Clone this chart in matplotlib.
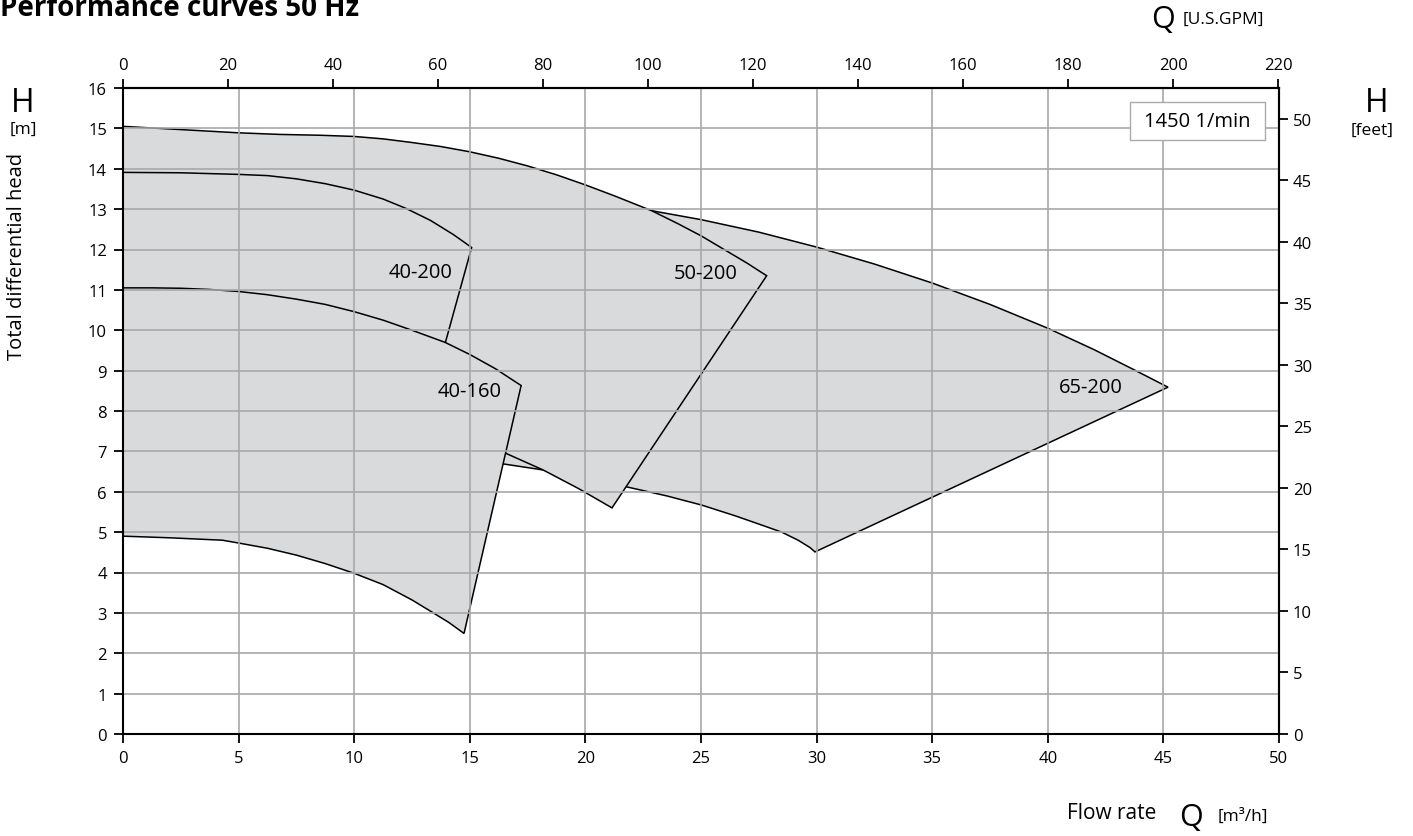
import matplotlib
matplotlib.use("Agg")
import matplotlib.pyplot as plt
from matplotlib.patches import Rectangle
import numpy as np

plt.rcParams['font.family'] = ['Open Sans', 'DejaVu Sans']

W, H = 1413, 837
GPM = 4.40287    # US gallons per minute in one m3/h
FT = 3.28084     # feet in one metre

# pump envelopes: max impeller (hi) and min impeller (lo) curves, Q in m3/h, H in m
q_40160_hi = [0, 1.25, 2.5, 3.75, 5, 6.25, 7.5, 8.75, 10, 11.25, 12.5, 13.93, 15, 16.1, 17.22]
h_40160_hi = [11.05, 11.05, 11.04, 11.01, 10.96, 10.88, 10.77, 10.64, 10.46, 10.25, 10.0, 9.70,
              9.40, 9.05, 8.63]
q_40160_lo = [0, 2, 4.3, 5, 6.25, 7.5, 8.75, 10, 11.25, 12.5, 13.42, 14.1, 14.75]
h_40160_lo = [4.90, 4.86, 4.80, 4.73, 4.60, 4.43, 4.22, 3.98, 3.70, 3.32, 3.00, 2.76, 2.49]

q_40200_hi = [0, 2.5, 5, 6.25, 7.5, 8.75, 10, 11.25, 12.27, 13.3, 14.29, 15.08]
h_40200_hi = [13.91, 13.90, 13.86, 13.83, 13.75, 13.63, 13.47, 13.25, 13.01, 12.72, 12.37, 12.05]
q_40200_lo = [0, 5, 10, 12.4]
h_40200_lo = [7.6, 7.4, 6.9, 6.5]

q_50200_hi = [0, 2.5, 5, 6.8, 8.5, 10, 11.25, 12.5, 13.75, 15, 16.25, 17.5, 18.75, 20, 21.25,
              22.87, 24, 25, 26, 27, 27.84]
h_50200_hi = [15.05, 14.97, 14.89, 14.85, 14.83, 14.80, 14.74, 14.65, 14.55, 14.42, 14.26, 14.07,
              13.85, 13.60, 13.33, 12.96, 12.64, 12.34, 12.00, 11.66, 11.35]
q_50200_lo = [0, 5, 10, 14, 16.45, 18.17, 19.7, 21.15]
h_50200_lo = [9.06, 8.87, 8.30, 7.55, 6.98, 6.54, 6.08, 5.60]

q_65200_hi = [0, 5, 10, 15, 20, 22.87, 25, 27.5, 30, 32.5, 35, 37.5, 40, 42, 43.7, 45.2]
h_65200_hi = [13.6, 13.58, 13.5, 13.35, 13.12, 12.96, 12.74, 12.43, 12.06, 11.64, 11.17, 10.64,
              10.05, 9.52, 9.03, 8.59]
q_65200_lo = [0, 5, 10, 14, 16.44, 18.17, 20, 21.79, 23.5, 25.03, 26.5, 27.5, 28.49, 29.2,
              29.71, 29.93]
h_65200_lo = [7.5, 7.45, 7.25, 6.95, 6.69, 6.54, 6.33, 6.12, 5.90, 5.67, 5.40, 5.20, 5.00, 4.80,
              4.62, 4.51]

pumps = ['65-200', '50-200', '40-200', '40-160']
curves = {
    '65-200': (q_65200_hi, h_65200_hi, q_65200_lo, h_65200_lo),
    '50-200': (q_50200_hi, h_50200_hi, q_50200_lo, h_50200_lo),
    '40-200': (q_40200_hi, h_40200_hi, q_40200_lo, h_40200_lo),
    '40-160': (q_40160_hi, h_40160_hi, q_40160_lo, h_40160_lo),
}
label_pos = {
    '65-200': (41.85, 8.59),
    '50-200': (25.22, 11.41),
    '40-200': (12.89, 11.44),
    '40-160': (14.98, 8.49),
}


def px(x, y):
    return x / W, 1 - y / H


fig = plt.figure(figsize=(W / 100, H / 100), dpi=100)
ax = fig.add_axes([123 / W, 1 - 735 / H, (1279 - 123) / W, (735 - 89) / H])
ax.set_xlim(0, 50)
ax.set_ylim(0, 16)

# each envelope drawn in turn, later fills hide the outlines beneath
for name in pumps:
    qh, hh, ql, hl = curves[name]
    xs = list(qh) + list(ql)[::-1]
    ys = list(hh) + list(hl)[::-1]
    ax.fill(xs, ys, facecolor='#d9dadc', edgecolor='black', linewidth=1.1, zorder=1)
    lx, ly = label_pos[name]
    ax.text(lx, ly, name, fontsize=14.5, ha='center', va='center', zorder=4)

ax.set_xticks(np.arange(0, 51, 5))
ax.set_yticks(np.arange(0, 17, 1))
ax.set_axisbelow(False)
ax.grid(True, color='#a8a8a8', linewidth=1.2)
for s in ax.spines.values():
    s.set_linewidth(1.5)
    s.set_zorder(5)

tick_kw = dict(direction='out', length=6.5, width=1.3, labelsize=12, colors='black')
ax.tick_params(axis='both', pad=5, **tick_kw)

top = ax.secondary_xaxis('top', functions=(lambda q: q * GPM, lambda g: g / GPM))
top.set_xticks(np.arange(0, 221, 20))
top.tick_params(pad=4, **tick_kw)
top.spines['top'].set_linewidth(1.5)

right = ax.secondary_yaxis('right', functions=(lambda h: h * FT, lambda f: f / FT))
right.set_yticks(np.arange(0, 51, 5))
right.tick_params(pad=3.5, **tick_kw)
right.spines['right'].set_linewidth(1.5)

# speed box
ax.add_patch(Rectangle((43.55, 14.72), 5.84, 0.93, facecolor='white', edgecolor='#aaaaaa',
                       linewidth=1.0, zorder=6))
ax.text(46.47, 15.18, '1450 1/min', fontsize=14.5, ha='center', va='center', zorder=7)

fig.text(*px(0, 16), 'Performance curves 50 Hz', fontsize=20, fontweight='bold',
         ha='left', va='baseline')

fig.text(*px(23, 104), 'H', fontsize=23, ha='center', va='center')
fig.text(*px(23, 130), '[m]', fontsize=12.5, ha='center', va='center')
fig.text(*px(17, 256), 'Total differential head', fontsize=14.5, rotation=90,
         ha='center', va='center')

fig.text(*px(1377, 104), 'H', fontsize=23, ha='center', va='center')
fig.text(*px(1372, 131), '[feet]', fontsize=12.5, ha='center', va='center')

fig.text(*px(1163, 20), 'Q', fontsize=22, ha='center', va='center')
fig.text(*px(1183, 20), '[U.S.GPM]', fontsize=12.5, ha='left', va='center')

fig.text(*px(1067, 814), 'Flow rate', fontsize=15, ha='left', va='center')
fig.text(*px(1191, 818), 'Q', fontsize=22, ha='center', va='center')
fig.text(*px(1218, 817), '[m³/h]', fontsize=12.5, ha='left', va='center')

fig.savefig('out.png', dpi=100)
